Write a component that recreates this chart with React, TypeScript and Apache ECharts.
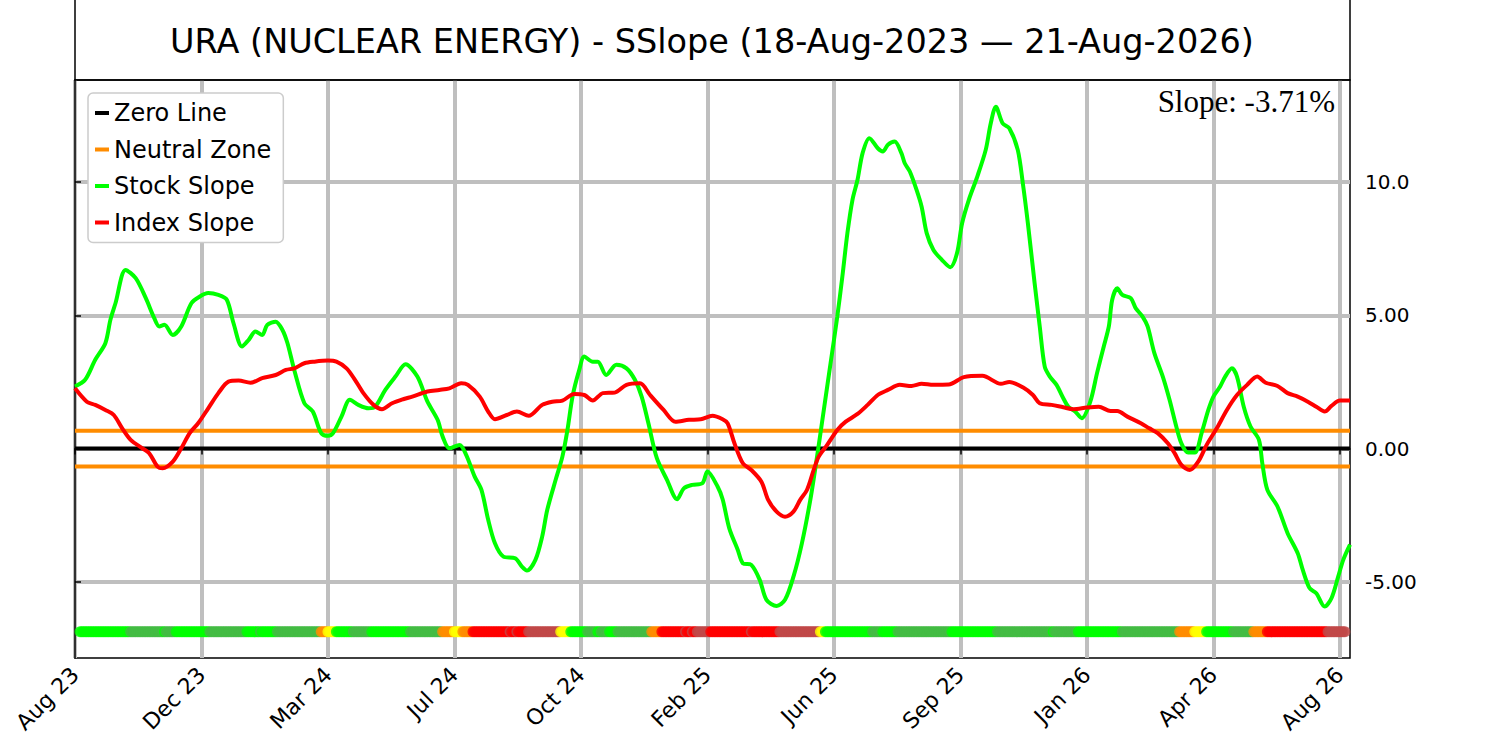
import * as echarts from 'echarts';
import { useEffect, useRef } from 'react';

// trading-day index runs 0..lastDay, one axis tick every 75 days
const lastDay = 756;
const xTickStep = 75;
const xTickLabels = ['Aug 23', 'Dec 23', 'Mar 24', 'Jul 24', 'Oct 24', 'Feb 25', 'Jun 25', 'Sep 25', 'Jan 26', 'Apr 26', 'Aug 26'];
const yTickValues = [-5, 0, 5, 10];
const yTickLabels = ['-5.00', '0.00', '5.00', '10.0'];
const neutralBand = 0.67;
const stripLevel = -6.87;
const slopeText = 'Slope: -3.71%';
const titleText = 'URA (NUCLEAR ENERGY) - SSlope (18-Aug-2023 \u2014 21-Aug-2026)';

const stockDays = [0, 6, 12, 18, 21, 24, 30, 36, 42, 47, 50, 53, 58, 63, 69, 74, 79, 85, 90, 94, 99, 103, 107, 111, 114, 119, 123, 126, 130, 136, 141, 146, 150, 153, 158, 163, 168, 174, 178, 184, 190, 196, 203, 209, 215, 218, 222, 228, 232, 237, 241, 245, 249, 254, 261, 265, 268, 273, 277, 280, 285, 289, 292, 295, 299, 302, 307, 310, 315, 321, 327, 332, 336, 340, 345, 351, 357, 361, 366, 372, 375, 381, 384, 388, 393, 396, 401, 406, 410, 416, 421, 426, 431, 436, 440, 444, 448, 452, 455, 458, 461, 464, 467, 471, 476, 479, 482, 486, 490, 492, 495, 499, 502, 505, 509, 514, 519, 523, 526, 530, 535, 540, 543, 546, 550, 554, 559, 562, 565, 569, 572, 575, 578, 582, 586, 589, 593, 597, 602, 606, 610, 613, 615, 618, 621, 626, 629, 633, 636, 640, 645, 649, 653, 656, 660, 664, 668, 672, 675, 679, 682, 686, 689, 693, 697, 702, 704, 707, 713, 719, 725, 728, 732, 736, 741, 745, 749, 752, 756];
const stockSlope = [2.33, 2.58, 3.33, 3.95, 4.83, 5.45, 6.70, 6.39, 5.64, 4.89, 4.58, 4.64, 4.26, 4.58, 5.45, 5.70, 5.83, 5.76, 5.58, 4.70, 3.83, 4.08, 4.39, 4.26, 4.64, 4.76, 4.45, 3.95, 2.95, 1.70, 1.39, 0.58, 0.48, 0.58, 1.20, 1.83, 1.64, 1.51, 1.57, 2.20, 2.70, 3.16, 2.70, 1.76, 1.08, 0.45, 0.01, 0.14, -0.24, -1.05, -1.55, -2.67, -3.55, -4.05, -4.11, -4.42, -4.57, -4.17, -3.30, -2.30, -1.17, -0.30, 0.70, 1.95, 2.95, 3.45, 3.26, 3.26, 2.76, 3.14, 3.01, 2.58, 1.95, 0.95, -0.36, -1.17, -1.90, -1.49, -1.36, -1.30, -0.86, -1.42, -1.90, -3.00, -3.80, -4.30, -4.36, -4.92, -5.67, -5.90, -5.67, -4.80, -3.55, -1.92, -0.30, 1.45, 3.20, 4.95, 6.45, 8.08, 9.33, 10.08, 11.08, 11.64, 11.26, 11.14, 11.39, 11.51, 11.08, 10.70, 10.39, 9.70, 9.07, 8.08, 7.45, 7.08, 6.80, 7.33, 8.45, 9.33, 10.20, 11.20, 12.20, 12.82, 12.20, 12.01, 11.20, 9.95, 8.45, 6.20, 4.60, 3.07, 2.70, 2.39, 1.89, 1.57, 1.39, 1.14, 1.76, 2.83, 3.83, 4.58, 5.58, 6.01, 5.76, 5.64, 5.26, 4.95, 4.58, 3.58, 2.70, 1.83, 0.83, 0.20, -0.15, -0.15, 0.58, 1.45, 1.95, 2.33, 2.70, 3.01, 2.70, 1.57, 0.83, 0.33, -0.55, -1.55, -2.17, -3.17, -3.92, -4.55, -5.23, -5.42, -5.92, -5.61, -4.80, -4.17, -3.60];

const indexDays = [0, 7, 12, 18, 23, 28, 33, 40, 44, 49, 52, 58, 63, 68, 73, 79, 85, 91, 97, 104, 111, 119, 125, 130, 136, 142, 150, 155, 161, 166, 171, 177, 182, 188, 195, 200, 209, 216, 222, 229, 233, 240, 245, 249, 256, 262, 269, 277, 283, 289, 296, 302, 307, 313, 320, 327, 335, 341, 349, 356, 364, 371, 378, 384, 387, 391, 396, 401, 407, 411, 416, 421, 426, 430, 434, 438, 441, 446, 452, 457, 464, 470, 476, 482, 489, 496, 502, 509, 518, 527, 538, 549, 554, 562, 568, 572, 579, 586, 592, 600, 607, 614, 618, 624, 632, 637, 642, 648, 652, 656, 661, 666, 671, 677, 683, 689, 695, 701, 706, 713, 719, 725, 731, 736, 741, 745, 750, 756];
const indexSlope = [2.26, 1.76, 1.64, 1.45, 1.26, 0.76, 0.33, 0.01, -0.17, -0.68, -0.74, -0.49, 0.01, 0.58, 0.95, 1.51, 2.08, 2.51, 2.55, 2.47, 2.64, 2.76, 2.95, 3.01, 3.20, 3.26, 3.30, 3.26, 3.01, 2.58, 2.08, 1.64, 1.48, 1.70, 1.86, 1.95, 2.14, 2.20, 2.26, 2.45, 2.39, 1.95, 1.39, 1.10, 1.26, 1.39, 1.23, 1.64, 1.76, 1.80, 2.05, 2.01, 1.80, 2.08, 2.10, 2.39, 2.45, 2.01, 1.45, 1.01, 1.08, 1.10, 1.23, 1.10, 0.95, 0.20, -0.55, -0.80, -1.24, -1.92, -2.36, -2.55, -2.36, -1.92, -1.55, -0.80, -0.30, 0.14, 0.70, 1.01, 1.30, 1.64, 2.01, 2.20, 2.39, 2.35, 2.43, 2.39, 2.40, 2.68, 2.73, 2.43, 2.50, 2.30, 2.01, 1.70, 1.64, 1.55, 1.48, 1.54, 1.57, 1.41, 1.41, 1.20, 0.95, 0.76, 0.58, 0.20, -0.17, -0.61, -0.80, -0.49, 0.14, 0.76, 1.45, 2.01, 2.39, 2.70, 2.47, 2.35, 2.08, 1.95, 1.76, 1.57, 1.39, 1.60, 1.80, 1.80];

// signal strip: day where each state run begins, and its state
const stripStart = [0, 33, 53, 54, 60, 80, 102, 110, 111, 120, 146, 150, 155, 165, 176, 199, 218, 225, 230, 236, 258, 259, 262, 263, 269, 288, 294, 304, 310, 312, 317, 322, 342, 348, 362, 363, 366, 367, 369, 377, 401, 402, 418, 442, 445, 473, 479, 488, 520, 547, 580, 581, 595, 621, 655, 664, 671, 687, 699, 707, 743];
const stripState = ['G', 'M', 'G', 'M', 'G', 'M', 'G', 'M', 'G', 'M', 'O', 'Y', 'G', 'M', 'G', 'M', 'O', 'Y', 'O', 'R', 'D', 'R', 'D', 'R', 'D', 'Y', 'G', 'M', 'G', 'M', 'G', 'M', 'O', 'R', 'D', 'R', 'D', 'R', 'D', 'R', 'D', 'R', 'D', 'Y', 'G', 'M', 'G', 'M', 'G', 'M', 'G', 'M', 'G', 'M', 'O', 'Y', 'G', 'M', 'O', 'R', 'D'];
const stateColors: Record<string, string> = {
    G: '#00ff00',
    M: '#44bb44',
    O: '#ff8c00',
    Y: '#ffff00',
    R: '#ff0000',
    D: '#c04848',
};

const font = 'DejaVu Sans';
const gridGray = '#bfbfbf';

const App = () => {
    const divRef = useRef<HTMLDivElement>(null);

    useEffect(() => {
        document.body.style.margin = '0';
        const chart = echarts.init(divRef.current!, null, { renderer: 'svg' });

        const stock = stockDays.map((d, i) => [d, stockSlope[i]]);
        const index = indexDays.map((d, i) => [d, indexSlope[i]]);

        // one dot per trading day; the outermost dots sit half outside the frame, so skip them
        const strip: any[] = [];
        let run = 0;
        for (let d = 0; d <= lastDay; d++) {
            while (run + 1 < stripStart.length && stripStart[run + 1] <= d) run++;
            if (d < 3 || d > lastDay - 3) continue;
            strip.push({ value: [d, stripLevel], itemStyle: { color: stateColors[stripState[run]] } });
        }

        const xTicks = xTickLabels.map((_, i) => i * xTickStep);

        chart.setOption({
            animation: false,
            grid: {
                left: 75, right: 150, top: 80, bottom: 83,
                show: true, borderColor: '#000', borderWidth: 1.5, backgroundColor: '#fff',
            },
            legend: {
                data: ['Zero Line', 'Neutral Zone', 'Stock Slope', 'Index Slope'],
                orient: 'vertical',
                left: 88, top: 93,
                icon: 'rect', itemWidth: 14, itemHeight: 4, itemGap: 12.5,
                padding: [8, 12, 8, 7],
                backgroundColor: '#fff', borderColor: '#cccccc', borderWidth: 1.5, borderRadius: 5,
                selectedMode: false,
                textStyle: { fontSize: 24, color: '#000', fontFamily: font },
            },
            xAxis: {
                type: 'value', min: 0, max: lastDay, interval: xTickStep,
                axisLine: { show: true, lineStyle: { color: '#000', width: 1.5 } },
                axisTick: { show: true, customValues: xTicks, length: 6, lineStyle: { color: '#000', width: 1.5 } },
                axisLabel: {
                    customValues: xTicks,
                    rotate: 45, margin: 13, fontSize: 22, color: '#000', fontFamily: font,
                    formatter: (v: number) => {
                        const i = xTicks.indexOf(v);
                        return i >= 0 ? xTickLabels[i] : '';
                    },
                },
                splitLine: { show: true, lineStyle: { color: gridGray, width: 4 } },
            },
            yAxis: {
                type: 'value', position: 'right', min: -7.85, max: 13.82,
                axisLine: { show: true, lineStyle: { color: '#000', width: 1.5 } },
                axisTick: { show: true, customValues: yTickValues, length: 6, lineStyle: { color: '#000', width: 1.5 } },
                axisLabel: {
                    customValues: yTickValues,
                    margin: 15, fontSize: 20, color: '#000', fontFamily: font,
                    formatter: (v: number) => {
                        const i = yTickValues.indexOf(v);
                        return i >= 0 ? yTickLabels[i] : '';
                    },
                },
                splitLine: { show: true, lineStyle: { color: gridGray, width: 4 } },
            },
            series: [
                {
                    name: 'Zero Line', type: 'line', color: '#000', showSymbol: false, silent: true,
                    lineStyle: { width: 4, color: '#000' },
                    data: [[0, 0], [lastDay, 0]],
                },
                {
                    name: 'Neutral Zone', type: 'line', color: '#ff8c00', showSymbol: false, silent: true,
                    lineStyle: { width: 4, color: '#ff8c00' },
                    data: [[0, neutralBand], [lastDay, neutralBand]],
                },
                {
                    name: 'Neutral Zone', type: 'line', color: '#ff8c00', showSymbol: false, silent: true,
                    lineStyle: { width: 4, color: '#ff8c00' },
                    data: [[0, -neutralBand], [lastDay, -neutralBand]],
                },
                {
                    name: 'Stock Slope', type: 'line', color: '#00ff00', showSymbol: false, silent: true,
                    smooth: 0.3,
                    lineStyle: { width: 4, color: '#00ff00' },
                    data: stock,
                },
                {
                    name: 'Index Slope', type: 'line', color: '#ff0000', showSymbol: false, silent: true,
                    smooth: 0.3,
                    lineStyle: { width: 4, color: '#ff0000' },
                    data: index,
                },
                {
                    name: 'Signal', type: 'scatter', symbolSize: 11, silent: true,
                    data: strip,
                },
            ],
            graphic: [
                {
                    type: 'rect', z: 100,
                    shape: { x: 75, y: -2, width: 1275, height: 82 },
                    style: { fill: 'none', stroke: '#000', lineWidth: 1.5 },
                },
                {
                    type: 'text', z: 100, x: 712, y: 41,
                    style: { text: titleText, fontSize: 33.5, fontFamily: font, fill: '#000', align: 'center', verticalAlign: 'middle' },
                },
                {
                    type: 'text', z: 100, x: 1335, y: 101,
                    style: { text: slopeText, fontSize: 31, fontFamily: 'Liberation Serif', fill: '#000', align: 'right', verticalAlign: 'middle' },
                },
            ],
        });

        return () => {
            chart.dispose();
        };
    }, []);

    return <div ref={divRef} style={{ width: '1500px', height: '741px' }}></div>;
};

export default App;
